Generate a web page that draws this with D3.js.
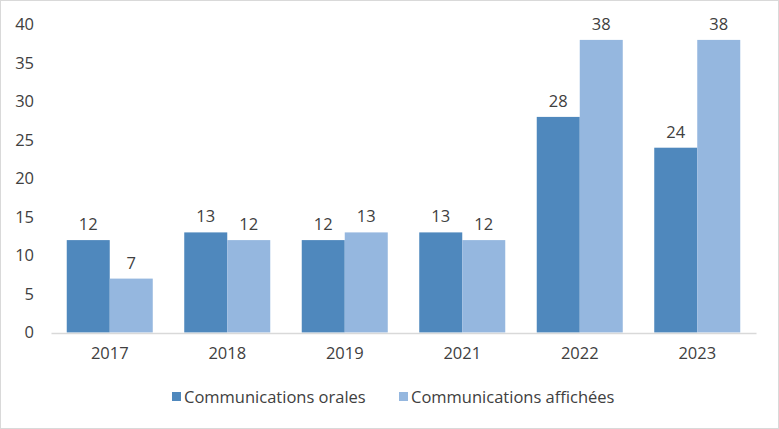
<!DOCTYPE html>
<html><head><meta charset="utf-8">
<script src="https://cdn.jsdelivr.net/npm/d3@7"></script>
<style>html,body{margin:0;padding:0;background:#fff}svg{display:block}</style>
</head><body><svg id="c" width="779" height="429"></svg>
<script>
const categories = ["2017","2018","2019","2021","2022","2023"];
const seriesNames = ["Communications orales","Communications affichées"];
const orales = [12,13,12,13,28,24];
const affichees = [7,12,13,12,38,38];
const yTicks = [0,5,10,15,20,25,30,35,40];
const colors = ["#4f88bd","#95b7df"];

const svg = d3.select("#c");
const font = "'Open Sans', sans-serif";
const fs = 16.5;
const txt = "#404040";
svg.append("rect").attr("x",0.5).attr("y",0.5).attr("width",778).attr("height",428)
  .attr("fill","#fff").attr("stroke","#d9d9d9");

const x0 = d3.scaleBand().domain(categories).range([51,756]).paddingInner(0.268).paddingOuter(0.134);
const x1 = d3.scaleBand().domain([0,1]).range([0,x0.bandwidth()]);
const y = d3.scaleLinear().domain([0,40]).range([332.5,24.5]);

const yAxis = svg.append("g").attr("transform","translate(34,0)")
  .call(d3.axisLeft(y).tickValues(yTicks).tickSize(0).tickPadding(0));
yAxis.select(".domain").remove();
yAxis.selectAll("text").attr("font-family",font).attr("font-size",fs).attr("fill",txt);

const data = categories.map((c,i)=>({c, v:[orales[i],affichees[i]]}));
const g = svg.append("g");
data.forEach(d=>{
  d.v.forEach((v,k)=>{
    g.append("rect").attr("x",x0(d.c)+x1(k)).attr("y",y(v)).attr("width",x1.bandwidth())
      .attr("height",y(0)-y(v)).attr("fill",colors[k]);
    g.append("text").attr("x",x0(d.c)+x1(k)+x1.bandwidth()/2).attr("y",y(v)-10)
      .attr("text-anchor","middle").attr("font-family",font).attr("font-size",fs).attr("fill",txt).text(v);
  });
});

const xAxis = svg.append("g").attr("transform","translate(0,333)")
  .call(d3.axisBottom(x0).tickSize(0).tickPadding(14));
xAxis.select(".domain").attr("stroke","#d9d9d9").attr("stroke-width",1.5);
xAxis.selectAll("text").attr("font-family",font).attr("font-size",fs).attr("fill",txt);

const legX = [172,399];
seriesNames.forEach((n,k)=>{
  svg.append("rect").attr("x",legX[k]).attr("y",392).attr("width",9).attr("height",9).attr("fill",colors[k]);
  svg.append("text").attr("x",legX[k]+12).attr("y",402.5).attr("font-family",font).attr("font-size",fs)
    .attr("fill",txt).text(n);
});
</script></body></html>
